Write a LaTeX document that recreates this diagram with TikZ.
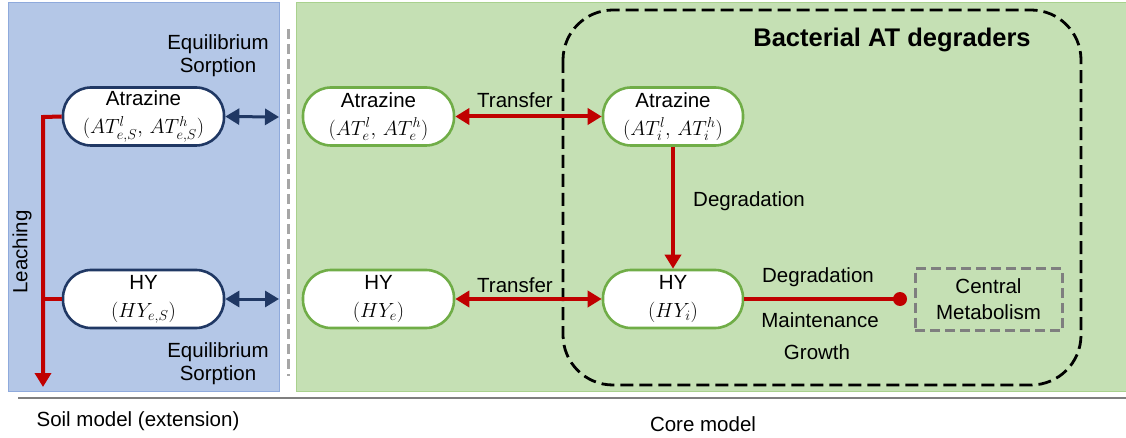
\RequirePackage{fix-cm}
\documentclass[tikz,border=0pt]{standalone}
\usepackage{fontspec}
\setmainfont{Liberation Sans}
\usetikzlibrary{arrows.meta}
\definecolor{panelblue}{HTML}{B4C7E7}
\definecolor{panelblueedge}{HTML}{8FAADC}
\definecolor{panelgreen}{HTML}{C5E0B4}
\definecolor{panelgreenedge}{HTML}{A9D18E}
\definecolor{navy}{HTML}{203864}
\definecolor{leafgreen}{HTML}{70AD47}
\definecolor{darkred}{HTML}{C00000}
\definecolor{sepgray}{HTML}{A6A6A6}
\definecolor{cmgray}{HTML}{7F7F7F}
\begin{document}
\begin{tikzpicture}[x=1pt,y=-1pt,
  lbl/.style={font=\fontsize{20.5}{23}\selectfont, align=center, inner sep=0pt},
  pool/.style={draw, line width=2.6pt, fill=white, rounded corners=28pt,
    minimum height=58pt, inner sep=0pt, align=center,
    font=\fontsize{20.5}{28}\selectfont},
  soilpool/.style={pool, draw=navy},
  corepool/.style={pool, draw=leafgreen},
  navyarrow/.style={draw=navy, line width=3pt, {Triangle[length=14pt,width=16pt]}-{Triangle[length=14pt,width=16pt]}},
  redline/.style={draw=darkred, line width=4pt},
  redarrow/.style={redline, -{Triangle[length=14pt,width=16pt]}},
  redboth/.style={redline, {Triangle[length=14pt,width=16pt]}-{Triangle[length=14pt,width=16pt]}}
]
\useasboundingbox (0,0) rectangle (1126,438);
% panels
\draw[fill=panelblue, draw=panelblueedge, line width=1pt] (8,3) rectangle (279,391);
\draw[fill=panelgreen, draw=panelgreenedge, line width=1pt] (296,3) rectangle (1126,391);
\draw[sepgray, line width=3pt, dash pattern=on 10pt off 5pt] (288,29) -- (288,376);
\draw[cmgray, line width=1.2pt] (18,398) -- (1126,398);
% bacterial box
\draw[black, line width=2.8pt, dash pattern=on 13pt off 6pt, rounded corners=50pt] (563,10) rectangle (1081,385);
\node[font=\bfseries\fontsize{25.5}{28}\selectfont, inner sep=0pt] (title) at (892,40) {Bacterial AT degraders};
% pools
\node[soilpool, minimum width=161pt] (sAT) at (143.5,116.5) {Atrazine\\$(AT_{e,S}^{l},\, AT_{e,S}^{h})$};
\node[soilpool, minimum width=161pt] (sHY) at (143.5,299) {HY\\$(HY_{e,S})$};
\node[corepool, minimum width=151pt] (eAT) at (378.5,116.5) {Atrazine\\$(AT_{e}^{l},\, AT_{e}^{h})$};
\node[corepool, minimum width=151pt] (eHY) at (378.5,299) {HY\\$(HY_{e})$};
\node[corepool, minimum width=140pt] (iAT) at (673,116.5) {Atrazine\\$(AT_{i}^{l},\, AT_{i}^{h})$};
\node[corepool, minimum width=140pt] (iHY) at (673,299) {HY\\$(HY_{i})$};
\node[draw=cmgray, line width=3pt, dash pattern=on 10pt off 5pt, minimum width=147pt, minimum height=62pt,
  inner sep=0pt, align=center, font=\fontsize{20.5}{26}\selectfont] (cm) at (988.5,299.5) {Central\\Metabolism};
% soil arrows
\coordinate (sATr) at (279,117);
\coordinate (sHYr) at (279,299);
\draw[navyarrow] (sAT.east) -- (sATr);
\draw[navyarrow] (sHY.east) -- (sHYr);
\coordinate (lt) at (43,117);
\coordinate (lb) at (43,387);
\draw[redarrow] (sAT.west) -- (lt) -- (lb);
\draw[redline] (sHY.west) -- (sHY.west -| lt);
\node[lbl, rotate=90] (leach) at (22,252) {Leaching};
\node[lbl] (eq1) at (218,56) {Equilibrium\\Sorption};
\node[lbl] (eq2) at (218,364) {Equilibrium\\Sorption};
% core arrows
\draw[redboth] (eAT.east) -- (iAT.west);
\draw[redboth] (eHY.east) -- (iHY.west);
\node[lbl] (tr1) at (515,100) {Transfer};
\node[lbl] (tr2) at (515,285) {Transfer};
\draw[redarrow] (iAT.south) -- (iHY.north);
\node[lbl, anchor=west] (deg1) at (693,201) {Degradation};
\coordinate (dot) at (900,299);
\draw[redline] (iHY.east) -- (dot);
\fill[darkred] (dot) circle (7pt);
\node[lbl] (deg2) at (818,277) {Degradation};
\node[lbl] (maint) at (820,320) {Maintenance};
\node[lbl] (growth) at (817,352) {Growth};
% captions
\node[lbl] (soilcap) at (138,421) {Soil model (extension)};
\node[lbl] (corecap) at (703,424) {Core model};
\end{tikzpicture}
\end{document}
